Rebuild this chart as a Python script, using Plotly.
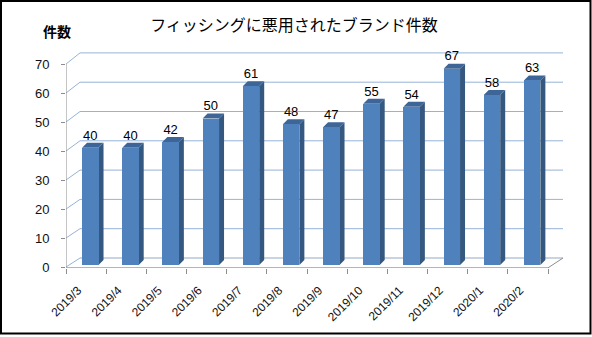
import plotly.graph_objects as go

categories = ["2019/3", "2019/4", "2019/5", "2019/6", "2019/7", "2019/8",
              "2019/9", "2019/10", "2019/11", "2019/12", "2020/1", "2020/2"]
counts = [40, 40, 42, 50, 61, 48, 47, 55, 54, 67, 58, 63]
y_ticks = [0, 10, 20, 30, 40, 50, 60, 70]
chart_title = "フィッシングに悪用されたブランド件数"
y_title = "件数"

# ---- layout geometry (pixels) ----
W, H = 592, 337
L, R, T, B = 66, 563, 50, 268          # plot area
n = len(categories)
cat_px = (548 - 66) / n                # width of one category on the front axis
x_min = -0.5
x_max = x_min + (R - L) / cat_px

FRONT0, FRONT_K = 267, 2.90            # front (axis) plane: pixel of 0, px per unit
BAR0, BAR_K = 265, 2.93                # bar plane (the plotted y axis)
BACK0, BACK_K = 258, 2.93              # back wall plane
WALL_DX = 14                           # px shift from front to back wall
BAR_DX, BAR_DY = 5, 5                  # bar depth
BAR_OFF, BAR_W = -0.10, 0.41           # bar position inside category


def px_to_y(py):
    return (BAR0 - py) / BAR_K


def front(t):
    return px_to_y(FRONT0 - FRONT_K * t)


def back(t):
    return px_to_y(BACK0 - BACK_K * t)


def paper_x(px):
    return (px - L) / (R - L)


def paper_y(py):
    return (B - py) / (B - T)


FRONT_COL = "#4F81BD"
SIDE_COL = "#34587F"
TOP_COL = "#3D6597"
GRID_COL = "#95B3D7"
AXIS_COL = "#8C8C8C"
FLOOR_COL = "#B9C6D6"

idx = list(range(n))
bar_centers = [i + BAR_OFF + BAR_W / 2 for i in idx]

fig = go.Figure()

fig.add_trace(go.Bar(
    x=bar_centers, y=counts, width=BAR_W,
    marker=dict(color=FRONT_COL, line=dict(width=0)),
    hoverinfo="skip", showlegend=False,
))

dxu = BAR_DX / cat_px
dyu = BAR_DY / BAR_K
fig.add_trace(go.Scatter(
    x=bar_centers, y=[v + dyu for v in counts],
    mode="text", text=[str(v) for v in counts], textposition="top center",
    textfont=dict(family="Liberation Sans, Arial, sans-serif", size=13, color="#000000"),
    cliponaxis=False, hoverinfo="skip", showlegend=False,
))

shapes = []
back_left = x_min + WALL_DX / cat_px
# back wall gridlines + side wall diagonals
for t in y_ticks:
    col = FLOOR_COL if t == 0 else GRID_COL
    shapes.append(dict(type="line", xref="x", yref="y", layer="below",
                       x0=back_left, x1=x_max, y0=back(t), y1=back(t),
                       line=dict(color=col, width=1.5 if t == 0 else 1)))
    shapes.append(dict(type="line", xref="x", yref="y", layer="below",
                       x0=x_min, x1=back_left, y0=front(t), y1=back(t),
                       line=dict(color=GRID_COL, width=1)))
# front y axis line
shapes.append(dict(type="line", xref="x", yref="y", layer="below",
                   x0=x_min, x1=x_min, y0=front(0), y1=front(y_ticks[-1]),
                   line=dict(color=AXIS_COL, width=1)))
# floor front edge and right edge
last_edge = x_min + n
shapes.append(dict(type="line", xref="x", yref="y", layer="below",
                   x0=x_min, x1=last_edge, y0=front(-0.3), y1=front(-0.3),
                   line=dict(color=AXIS_COL, width=1)))
shapes.append(dict(type="line", xref="x", yref="y", layer="below",
                   x0=last_edge, x1=x_max, y0=front(-0.3), y1=back(0),
                   line=dict(color=AXIS_COL, width=1)))

# 3D faces of bars
for i, v in enumerate(counts):
    xl = i + BAR_OFF
    xr = xl + BAR_W
    side = f"M {xr},0 L {xr + dxu},{dyu} L {xr + dxu},{v + dyu} L {xr},{v} Z"
    top = f"M {xl},{v} L {xl + dxu},{v + dyu} L {xr + dxu},{v + dyu} L {xr},{v} Z"
    shapes.append(dict(type="path", xref="x", yref="y", path=side,
                       fillcolor=SIDE_COL, line=dict(width=0), layer="below"))
    shapes.append(dict(type="path", xref="x", yref="y", path=top,
                       fillcolor=TOP_COL, line=dict(width=0), layer="below"))

# outer frame
shapes.append(dict(type="rect", xref="paper", yref="paper",
                   x0=paper_x(1), x1=paper_x(590.5), y0=paper_y(333.5), y1=paper_y(1),
                   line=dict(color="#000000", width=2), fillcolor="rgba(0,0,0,0)"))

fig.update_layout(
    width=W, height=H, autosize=False,
    margin=dict(l=L, r=W - R, t=T, b=H - B, pad=0, autoexpand=False),
    paper_bgcolor="white", plot_bgcolor="white",
    title=dict(text=chart_title, x=294 / W, xanchor="center", xref="container",
               y=1 - 25 / H, yanchor="middle", yref="container",
               font=dict(family="Noto Sans CJK JP", size=16, color="#000000")),
    xaxis=dict(range=[x_min, x_max], autorange=False, automargin=False,
               tickmode="array", tickvals=idx, ticktext=categories, ticks="",
               tickangle=-45, ticklabelstandoff=12, ticklabelshift=-8,
               minor=dict(tickmode="array", tickvals=[i - 0.5 for i in range(n + 1)],
                          ticks="outside", ticklen=5, tickcolor=AXIS_COL, showgrid=False),
               showgrid=False, showline=False, zeroline=False,
               tickfont=dict(family="Liberation Sans, Arial, sans-serif", size=12,
                             color="#111111"),
               fixedrange=True),
    yaxis=dict(range=[px_to_y(B), px_to_y(T)], autorange=False, automargin=False,
               tickmode="array", tickvals=[front(t) for t in y_ticks],
               ticktext=[str(t) for t in y_ticks], ticks="outside",
               ticklen=4, tickcolor=AXIS_COL, showgrid=False, showline=False,
               zeroline=False,
               tickfont=dict(family="Liberation Sans, Arial, sans-serif", size=13,
                             color="#111111"),
               ticklabelstandoff=9, fixedrange=True),
    shapes=shapes,
    annotations=[dict(text=y_title, xref="paper", yref="paper",
                      x=paper_x(57), y=paper_y(31), xanchor="center", yanchor="middle",
                      showarrow=False,
                      font=dict(family="Noto Sans CJK JP", size=14, color="#000000",
                                weight="bold"))],
    bargap=0,
)

fig.write_html("out.html")
